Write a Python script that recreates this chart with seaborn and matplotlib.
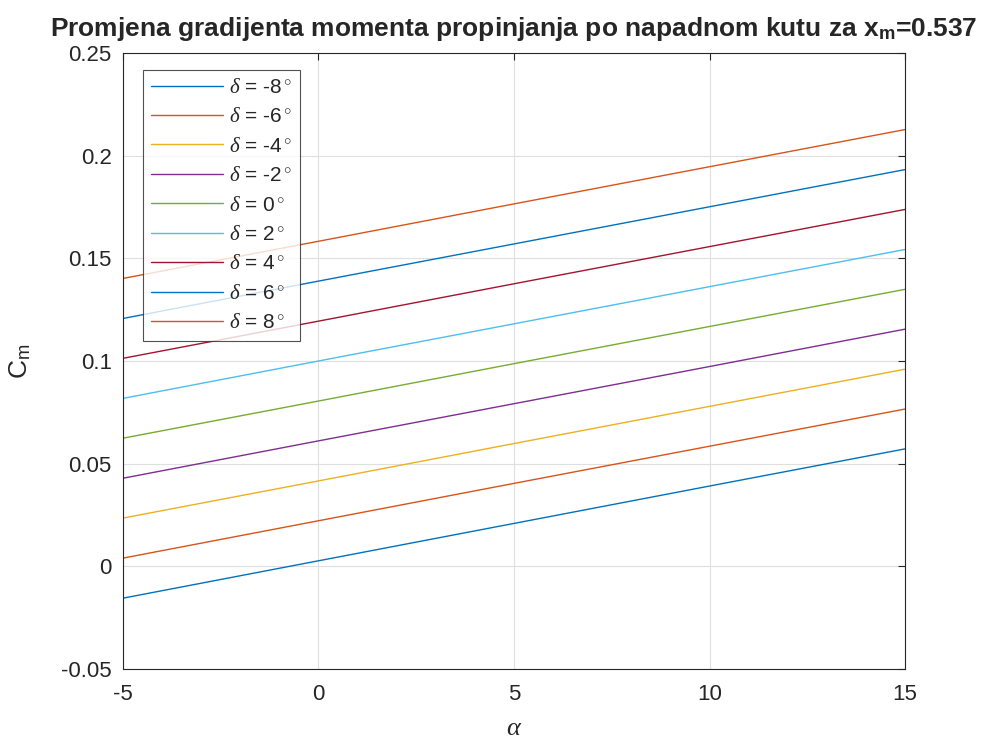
import matplotlib

matplotlib.use("Agg")
import matplotlib.pyplot as plt
import pandas as pd
import seaborn as sns

# values at alpha = -5, 0, 5, 10, 15
alpha = [-5, 0, 5, 10, 15]
deltas = [-8, -6, -4, -2, 0, 2, 4, 6, 8]
cm_m8 = [-0.0155, 0.0027, 0.0209, 0.0391, 0.0572]
cm_m6 = [0.0040, 0.0222, 0.0404, 0.0585, 0.0766]
cm_m4 = [0.0235, 0.0416, 0.0598, 0.0779, 0.0960]
cm_m2 = [0.0429, 0.0611, 0.0792, 0.0973, 0.1155]
cm_0 = [0.0624, 0.0805, 0.0987, 0.1168, 0.1349]
cm_p2 = [0.0818, 0.1000, 0.1181, 0.1362, 0.1543]
cm_p4 = [0.1013, 0.1194, 0.1376, 0.1557, 0.1738]
cm_p6 = [0.1207, 0.1389, 0.1570, 0.1751, 0.1932]
cm_p8 = [0.1402, 0.1583, 0.1765, 0.1946, 0.2127]

matlab_colors = ["#0072BD", "#D95319", "#EDB120", "#7E2F8E", "#77AC30",
                 "#4DBEEE", "#A2142F", "#0072BD", "#D95319"]

series = [cm_m8, cm_m6, cm_m4, cm_m2, cm_0, cm_p2, cm_p4, cm_p6, cm_p8]
rows = []
for d, vals in zip(deltas, series):
    label = r"$\delta$ = " + f"{d}" + r"$^\circ$"
    for a, v in zip(alpha, vals):
        rows.append({"alpha": a, "cm": v, "delta": label})
df = pd.DataFrame(rows)

sns.set_style("white")
plt.rcParams["font.family"] = ["Liberation Sans", "DejaVu Sans"]
plt.rcParams["axes.unicode_minus"] = False
plt.rcParams["mathtext.fontset"] = "custom"
plt.rcParams["mathtext.rm"] = "Liberation Sans"
plt.rcParams["mathtext.it"] = "Liberation Serif:italic"
plt.rcParams["mathtext.bf"] = "Liberation Sans:bold"

fig = plt.figure(figsize=(9.83, 7.45), dpi=100)
ax = fig.add_axes([0.1251, 0.102, 0.7956, 0.8269])

sns.lineplot(data=df, x="alpha", y="cm", hue="delta", palette=matlab_colors,
             linewidth=1.0, ax=ax, legend=True)

ax.set_xlim(-5, 15)
ax.set_ylim(-0.05, 0.25)
ax.set_xticks([-5, 0, 5, 10, 15])
ax.set_yticks([-0.05, 0, 0.05, 0.1, 0.15, 0.2, 0.25])
ax.set_yticklabels(["-0.05", "0", "0.05", "0.1", "0.15", "0.2", "0.25"])
ax.grid(True, color="#dfdfdf", linewidth=0.8)
for s in ax.spines.values():
    s.set_color("#262626")
    s.set_linewidth(0.8)
ax.tick_params(axis="both", labelsize=16, colors="#262626", direction="in",
               length=5, width=0.8, top=True, right=True)
ax.tick_params(axis="y", pad=8)
ax.tick_params(axis="x", pad=11)

ax.set_xlabel(r"$\alpha$", fontsize=19, color="#262626", labelpad=8)
ax.set_ylabel(r"C$_\mathrm{m}$", fontsize=19, color="#262626", labelpad=20)
ax.set_title(r"Promjena gradijenta momenta propinjanja po napadnom kutu za x$_\mathbf{m}$=0.537",
             fontsize=19, fontweight="bold", pad=12)

leg = ax.legend(loc="upper left", bbox_to_anchor=(0.025, 0.973), fontsize=15,
                frameon=True, fancybox=False, edgecolor="#262626",
                handlelength=3.45, labelspacing=0.5, borderpad=0.4,
                handletextpad=0.3, borderaxespad=0)
leg.get_frame().set_linewidth(0.8)
for line in leg.get_lines():
    line.set_linewidth(1.0)

fig.savefig("out.png", dpi=100)
plt.close(fig)
